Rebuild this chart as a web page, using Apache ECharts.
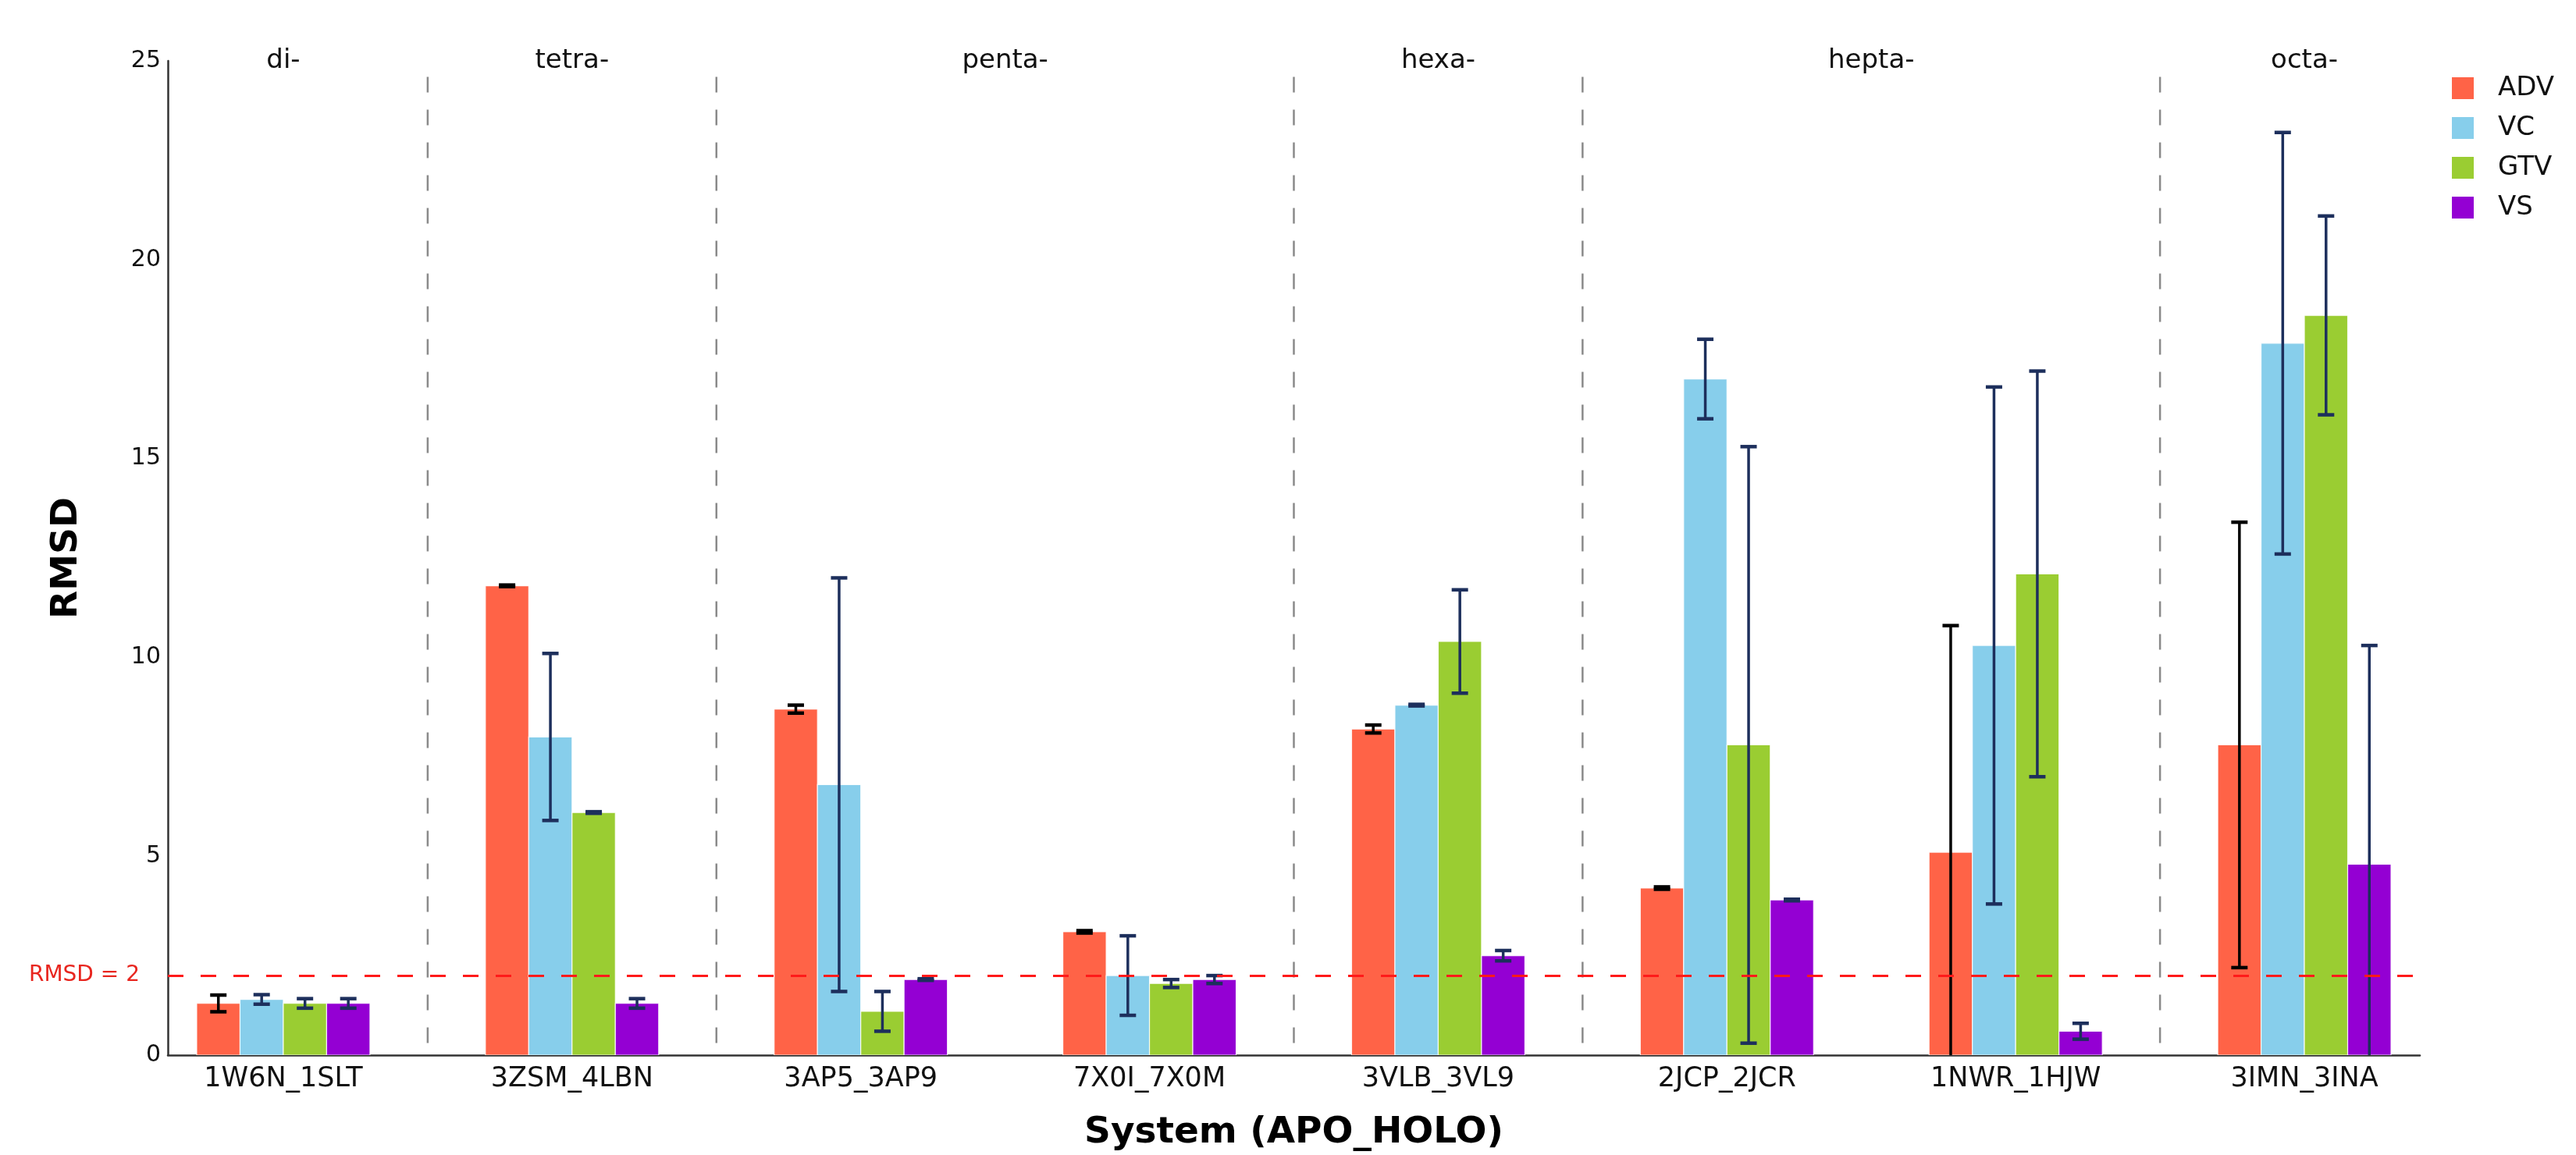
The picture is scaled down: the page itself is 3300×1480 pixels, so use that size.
<!DOCTYPE html>
<html>
<head>
<meta charset="utf-8">
<script src="https://cdn.jsdelivr.net/npm/echarts@6/dist/echarts.min.js"></script>
<style>
html,body{margin:0;padding:0;background:#fff;}
#chart{width:3300px;height:1480px;}
</style>
</head>
<body>
<div id="chart"></div>
<script>
const categories = ['1W6N_1SLT','3ZSM_4LBN','3AP5_3AP9','7X0I_7X0M','3VLB_3VL9','2JCP_2JCR','1NWR_1HJW','3IMN_3INA'];
const methods = ['ADV','VC','GTV','VS'];
const adv    = [1.3, 11.8, 8.7, 3.1, 8.2, 4.2, 5.1, 7.8];
const advErr = [0.21, 0.02, 0.1, 0.03, 0.1, 0.03, 5.7, 5.6];
const vc     = [1.4, 8.0, 6.8, 2.0, 8.8, 17.0, 10.3, 17.9];
const vcErr  = [0.12, 2.1, 5.2, 1.0, 0.02, 1.0, 6.5, 5.3];
const gtv    = [1.3, 6.1, 1.1, 1.8, 10.4, 7.8, 12.1, 18.6];
const gtvErr = [0.12, 0.02, 0.5, 0.1, 1.3, 7.5, 5.1, 2.5];
const vs     = [1.3, 1.3, 1.9, 1.9, 2.5, 3.9, 0.6, 4.8];
const vsErr  = [0.12, 0.12, 0.02, 0.1, 0.13, 0.02, 0.2, 5.5];
const groupLabels  = ['di-','tetra-','penta-','hexa-','hepta-','octa-'];
const groupCenters = [0, 1, 2.5, 4, 5.5, 7];
const separators   = [0.5, 1.5, 3.5, 4.5, 6.5];
const threshold = 2;
const yTicks = [0, 5, 10, 15, 20, 25];

const values = [adv, vc, gtv, vs];
const errors = [advErr, vcErr, gtvErr, vsErr];
const colors = ['#FF6347', '#87CEEB', '#9ACD32', '#9400D3'];
const errColors = ['#000000', '#1d2f5c', '#1d2f5c', '#1d2f5c'];
const barW = 0.15;
const offsets = [-0.225, -0.075, 0.075, 0.225];
const FONT = 'DejaVu Sans';

const series = [];
methods.forEach((m, k) => {
  series.push({
    name: m,
    type: 'custom',
    itemStyle: { color: colors[k] },
    clip: true,
    z: 2,
    encode: { x: 0, y: 1 },
    data: values[k].map((v, i) => [i, v]),
    renderItem: function (params, api) {
      const x = api.value(0) + offsets[k];
      const y = api.value(1);
      const p0 = api.coord([x - barW / 2, y]);
      const p1 = api.coord([x + barW / 2, 0]);
      return {
        type: 'rect',
        shape: { x: p0[0], y: p0[1], width: p1[0] - p0[0], height: p1[1] - p0[1] },
        style: { fill: colors[k], stroke: 'rgba(255,255,255,0.85)', lineWidth: 1.2 }
      };
    }
  });
});
methods.forEach((m, k) => {
  series.push({
    name: m + ' err',
    type: 'custom',
    clip: true,
    z: 4,
    encode: { x: 0, y: 1 },
    data: values[k].map((v, i) => [i, v, errors[k][i]]),
    renderItem: function (params, api) {
      const x = api.value(0) + offsets[k];
      const v = api.value(1), e = api.value(2);
      const top = api.coord([x, v + e]);
      const bot = api.coord([x, v - e]);
      const capHalf = 10.5;
      const st = { stroke: errColors[k], lineWidth: 3.5 };
      return {
        type: 'group',
        children: [
          { type: 'line', shape: { x1: top[0], y1: top[1], x2: bot[0], y2: bot[1] }, style: st },
          { type: 'line', shape: { x1: top[0] - capHalf, y1: top[1], x2: top[0] + capHalf, y2: top[1] }, style: { stroke: errColors[k], lineWidth: 4.5 } },
          { type: 'line', shape: { x1: bot[0] - capHalf, y1: bot[1], x2: bot[0] + capHalf, y2: bot[1] }, style: { stroke: errColors[k], lineWidth: 4.5 } }
        ]
      };
    }
  });
});
// separators + threshold line
series.push({
  name: 'separators',
  type: 'custom',
  clip: false,
  z: 1,
  encode: { x: 0, y: 1 },
  data: separators.map(s => [s, 0]),
  renderItem: function (params, api) {
    const x = api.value(0);
    const a = api.coord([x, 0]);
    const b = api.coord([x, 24.6]);
    return {
      type: 'line',
      shape: { x1: a[0], y1: b[1], x2: a[0], y2: a[1] },
      style: { stroke: '#8a8a8a', lineWidth: 2.5, lineDash: [20, 22] }
    };
  },
  markLine: {
    silent: true,
    symbol: ['none', 'none'],
    z: 5,
    lineStyle: { color: '#ff1a1a', width: 3, type: [20, 22] },
    label: {
      show: true, position: 'start', formatter: 'RMSD = ' + threshold,
      color: '#e8261f', fontSize: 28, fontFamily: FONT, distance: 36
    },
    data: [{ yAxis: threshold }]
  }
});
// group labels
series.push({
  name: 'groups',
  type: 'custom',
  clip: false,
  z: 3,
  encode: { x: 0, y: 1 },
  data: groupCenters.map((c, i) => [c, 25, i]),
  renderItem: function (params, api) {
    const p = api.coord([api.value(0), api.value(1)]);
    return {
      type: 'text',
      x: p[0], y: p[1],
      style: {
        text: groupLabels[api.value(2)],
        fill: '#111', font: '34px "' + FONT + '"',
        align: 'center', verticalAlign: 'middle',
        textAlign: 'center', textVerticalAlign: 'middle'
      }
    };
  }
});

const chart = echarts.init(document.getElementById('chart'), null, { renderer: 'canvas' });
chart.setOption({
  backgroundColor: '#ffffff',
  animation: false,
  textStyle: { fontFamily: FONT },
  grid: { left: 215, right: 200, top: 78, bottom: 126, containLabel: false },
  legend: {
    data: methods,
    orient: 'vertical',
    left: 3136,
    top: 91,
    icon: 'rect',
    itemWidth: 28,
    itemHeight: 28,
    itemGap: 17,
    textStyle: { fontSize: 34, color: '#111', fontFamily: FONT, padding: [0, 0, 0, 26], lineHeight: 28 }
  },
  xAxis: {
    type: 'value',
    min: -0.4,
    max: 7.4,
    name: 'System (APO_HOLO)',
    nameLocation: 'middle',
    nameGap: 76,
    nameTextStyle: { fontSize: 47, fontWeight: 'bold', color: '#000', fontFamily: FONT },
    axisLine: { show: true, onZero: false, lineStyle: { color: '#333', width: 2.5 } },
    axisTick: { show: false },
    splitLine: { show: false },
    axisLabel: {
      customValues: categories.map((c, i) => i),
      formatter: function (v) { return categories[Math.round(v)] || ''; },
      fontSize: 35, color: '#111', margin: 13, fontFamily: FONT
    }
  },
  yAxis: {
    type: 'value',
    min: 0,
    max: 25,
    interval: 5,
    name: 'RMSD',
    nameLocation: 'middle',
    nameGap: 106,
    nameTextStyle: { fontSize: 47, fontWeight: 'bold', color: '#000', fontFamily: FONT },
    axisLine: { show: true, onZero: false, lineStyle: { color: '#333', width: 2.5 } },
    axisTick: { show: false },
    splitLine: { show: false },
    axisLabel: {
      customValues: yTicks,
      fontSize: 30, color: '#111', margin: 9, fontFamily: FONT
    }
  },
  series: series
});
</script>
</body>
</html>
